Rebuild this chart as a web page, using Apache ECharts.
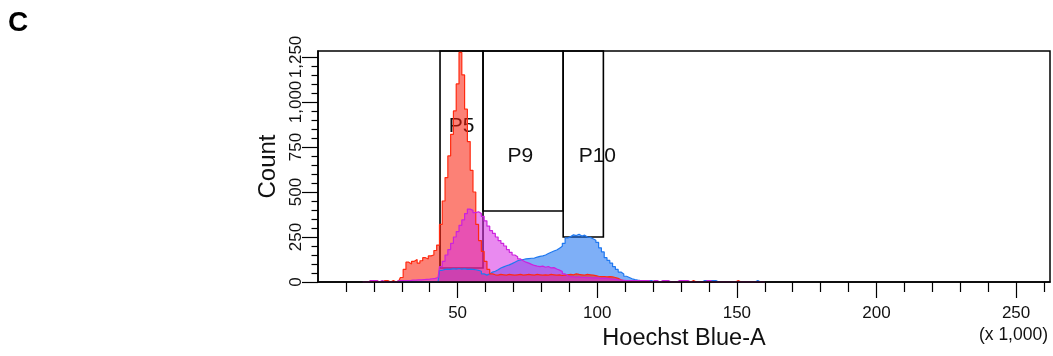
<!DOCTYPE html>
<html><head><meta charset="utf-8">
<script src="https://cdn.jsdelivr.net/npm/echarts@6/dist/echarts.min.js"></script>
<style>html,body{margin:0;padding:0;background:#fff}#c{width:1053px;height:356px}</style>
</head><body><div id="c"></div>
<script>
// Hoechst Blue-A bin centres (x 1,000)
const bins = [
 16,17,18,19,20,21,22,23,24,25,
 26,27,28,29,30,31,32,33,34,35,
 36,37,38,39,40,41,42,43,44,45,
 46,47,48,49,50,51,52,53,54,55,
 56,57,58,59,60,61,62,63,64,65,
 66,67,68,69,70,71,72,73,74,75,
 76,77,78,79,80,81,82,83,84,85,
 86,87,88,89,90,91,92,93,94,95,
 96,97,98,99,100,101,102,103,104,105,
 106,107,108,109,110,111,112,113,114,115,
 116,117,118,119,120,121,122,123,124,125,
 126,127,128,129,130,131,132,133,134,135,
 136,137,138,139,140,141,142,143,144,145,
 146,147,148,149,150,151,152,153,154,155,
 156,157,158,159,160
];
const redCounts = [
 0,0,0,8,0,8,0,0,8,8,
 0,8,0,8,25,70,110,100,115,125,
 105,118,135,128,145,150,175,205,320,450,
 580,700,820,950,1100,1275,1150,960,780,620,
 500,320,230,170,115,70,45,40,38,42,
 40,38,42,40,38,40,42,38,40,42,
 40,38,42,40,38,40,38,42,40,38,
 40,36,38,40,42,40,45,42,40,38,
 42,40,38,35,32,30,30,28,30,28,
 25,20,12,8,8,8,0,0,0,0,
 0,0,0,0,0,0,0,0,0,0,
 0,0,0,0,0,0,0,0,8,0,
 0,0,0,0,0,0,0,0,0,0,
 0,0,0,0,8,0,0,0,0,0,
 0,0,0,0,0
];
const magentaCounts = [
 0,0,0,8,8,8,0,8,0,0,
 0,0,0,8,8,8,8,8,10,10,
 12,12,14,15,16,18,20,25,85,115,
 150,180,215,250,280,315,345,380,405,398,
 385,390,380,365,340,310,285,270,250,230,
 215,200,180,165,150,140,128,118,110,105,
 98,92,88,85,88,82,86,78,80,72,
 66,58,45,35,30,28,26,28,25,26,
 24,25,22,24,22,20,22,20,18,16,
 15,12,10,9,8,8,8,8,8,8,
 8,8,8,0,8,8,0,8,8,8,
 0,0,0,8,8,8,8,0,0,0,
 0,0,0,8,8,0,0,0,0,0,
 0,0,0,0,0,0,0,0,0,0,
 0,0,0,0,0
];
const blueCounts = [
 0,0,0,0,0,0,0,0,0,0,
 0,0,0,0,0,0,0,0,0,0,
 0,0,0,0,0,0,0,0,65,70,
 72,70,74,72,75,72,74,70,72,70,
 68,65,60,45,38,45,55,60,68,78,
 84,90,95,102,110,118,122,125,128,130,
 132,133,138,142,145,150,158,165,172,178,
 188,198,215,245,252,262,258,265,255,260,
 250,248,240,232,220,190,167,135,120,105,
 85,70,55,44,32,25,18,13,10,8,
 8,8,8,8,0,0,0,0,0,0,
 0,0,0,0,0,0,0,0,0,0,
 0,0,8,8,8,8,8,0,0,0,
 0,0,0,0,0,0,0,0,0,0,
 0,8,0,0,0
];
const xMajorTicks = [50, 100, 150, 200, 250];
const xMinorTicks = [10,20,30,40,60,70,80,90,110,120,130,140,160,170,180,190,210,220,230,240,260];
const yMajorTicks = [0, 250, 500, 750, 1000, 1250];
const yMinorTicks = [50,100,150,200,300,350,400,450,550,600,650,700,800,850,900,950,1050,1100,1150,1200];
const gateNames = ['P5', 'P9', 'P10'];
const gateXStart = [43.7, 59.1, 87.8];
const gateXEnd = [59.1, 87.8, 102.2];
const gateYLow = [78, 394, 250];
const X_MAX = 262.144;
const Y_MAX = 1283;

const FF = '"Liberation Sans", Arial, sans-serif';
const gateLabelPos = [['50%', 76], [38, 106], [35, 106]];

function hist(counts) { return bins.map((b, i) => [b, counts[i]]); }
function histSeries(name, counts, line, fill) {
  return {
    name, type: 'line', step: 'middle', symbol: 'none', silent: true,
    data: hist(counts), z: 2,
    lineStyle: { color: line, width: 1.2 },
    itemStyle: { color: line },
    areaStyle: { color: fill, opacity: 1 }
  };
}

const chart = echarts.init(document.getElementById('c'), null, { renderer: 'canvas' });
chart.setOption({
  animation: false,
  backgroundColor: '#fff',
  textStyle: { fontFamily: FF },
  title: [
    { text: 'C', left: 8, top: 9, padding: 0, textStyle: { fontSize: 28, fontWeight: 'bold', color: '#000', fontFamily: FF } },
    { text: '(x 1,000)', right: 5, top: 326, padding: 0, textStyle: { fontSize: 17.5, fontWeight: 'normal', color: '#111', fontFamily: FF } }
  ],
  grid: { left: 318, top: 51, right: 3, bottom: 74, show: true, borderColor: '#000', borderWidth: 1.5, backgroundColor: 'rgba(0,0,0,0)', outerBoundsMode: 'none' },
  xAxis: [
    {
      type: 'value', min: 0, max: X_MAX, position: 'bottom', z: 3,
      axisLine: { onZero: false, lineStyle: { color: '#000', width: 1.5 } },
      axisTick: { customValues: xMajorTicks, length: 16, lineStyle: { color: '#000', width: 1.2 } },
      axisLabel: { customValues: xMajorTicks, margin: 23, fontSize: 17, color: '#111', fontFamily: FF },
      splitLine: { show: false },
      name: 'Hoechst Blue-A', nameLocation: 'middle', nameGap: 45,
      nameTextStyle: { fontSize: 23.5, color: '#111', fontFamily: FF }
    },
    {
      type: 'value', min: 0, max: X_MAX, position: 'bottom', z: 3,
      axisLine: { show: false, onZero: false },
      axisTick: { customValues: xMinorTicks, length: 10, lineStyle: { color: '#000', width: 1.2 } },
      axisLabel: { show: false },
      splitLine: { show: false }
    }
  ],
  yAxis: [
    {
      type: 'value', min: 0, max: Y_MAX, position: 'left', z: 3,
      axisLine: { show: true, onZero: false, lineStyle: { color: '#000', width: 1.5 } },
      axisTick: { show: true, customValues: yMajorTicks, length: 16, lineStyle: { color: '#000', width: 1.2 } },
      axisLabel: { customValues: yMajorTicks, rotate: 90, margin: 13, fontSize: 17, color: '#111', fontFamily: FF,
        formatter: v => Number(v).toLocaleString('en-US') },
      splitLine: { show: false },
      name: 'Count', nameLocation: 'middle', nameGap: 36,
      nameTextStyle: { fontSize: 24, color: '#111', fontFamily: FF }
    },
    {
      type: 'value', min: 0, max: Y_MAX, position: 'left', z: 3,
      axisLine: { show: false, onZero: false },
      axisTick: { show: true, customValues: yMinorTicks, length: 6.5, lineStyle: { color: '#000', width: 1.2 } },
      axisLabel: { show: false },
      splitLine: { show: false }
    }
  ],
  series: [
    histSeries('blue', blueCounts, '#1f78f0', 'rgba(20,110,240,0.55)'),
    histSeries('red', redCounts, '#ff2a10', 'rgba(250,25,5,0.55)'),
    histSeries('magenta', magentaCounts, '#cc22dd', 'rgba(215,42,228,0.55)'),
    {
      type: 'line', data: [], z: 5, silent: true,
      markArea: {
        silent: true,
        itemStyle: { color: 'rgba(0,0,0,0)', borderColor: '#000', borderWidth: 1.6 },
        label: { show: true, fontSize: 21, color: '#111', fontFamily: FF, align: 'center', verticalAlign: 'middle' },
        data: gateNames.map((n, i) => [
          { name: n, xAxis: gateXStart[i], yAxis: gateYLow[i],
            label: { position: gateLabelPos[i], align: 'center', verticalAlign: 'middle' } },
          { xAxis: gateXEnd[i], yAxis: Y_MAX }
        ])
      }
    }
  ]
});
</script>
</body></html>
